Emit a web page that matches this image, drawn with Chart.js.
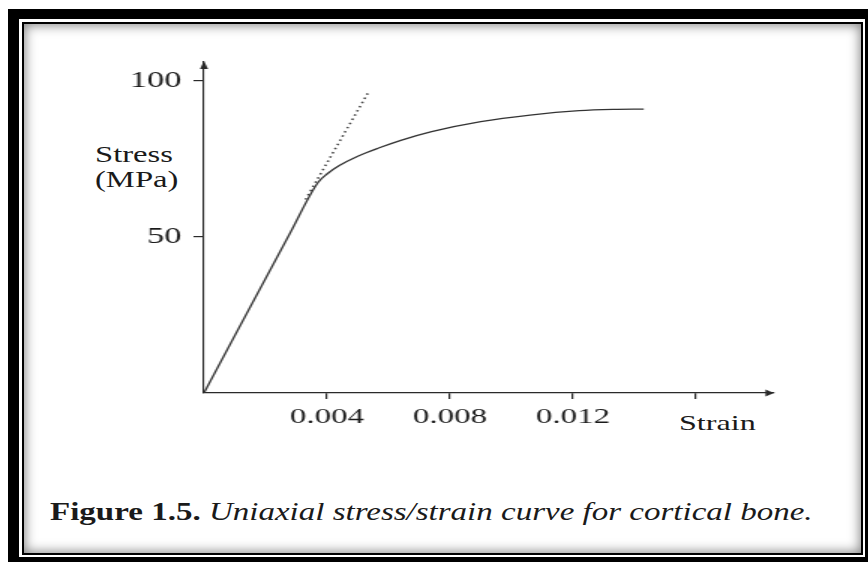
<!DOCTYPE html>
<html>
<head>
<meta charset="utf-8">
<script src="https://cdn.jsdelivr.net/npm/chart.js@4.4.1/dist/chart.umd.min.js"></script>
<style>
  html, body { margin: 0; padding: 0; background: #fff; overflow: hidden; }
  body { width: 868px; height: 562px; position: relative; font-family: "Liberation Serif", "Times New Roman", serif; color: #1a1a1a; }
  #outer { position: absolute; left: 8px; top: 9px; width: 867px; height: 558px; box-sizing: border-box;
           border: 10px solid #000; border-left-width: 11px; }
  #inner { position: absolute; left: 22px; top: 22px; width: 841px; height: 533px; box-sizing: border-box;
           border: 2px solid #000; box-shadow: inset 0 0 12px 1px rgba(0,0,0,0.5); }
  #wrap { position: absolute; left: 0; top: 0; width: 579px; height: 562px; transform: scaleX(1.5); transform-origin: 0 0; }
  .lbl { position: absolute; white-space: nowrap; transform-origin: 0 0; line-height: 1; }
  #ylab { left: 95px; top: 142px; font-size: 24px; transform: scaleX(1.36); }
  #ylab div { height: 25px; }
  #xlab { left: 679px; top: 412px; font-size: 22px; transform: scaleX(1.46); }
  #caption { left: 50px; top: 499px; font-size: 25px; transform: scaleX(1.32); }
</style>
</head>
<body>
<div id="outer"></div>
<div id="inner"></div>
<div class="lbl" id="ylab"><div>Stress</div><div>(MPa)</div></div>
<div class="lbl" id="xlab">Strain</div>
<div class="lbl" id="caption"><b>Figure 1.5.</b> <i>Uniaxial stress/strain curve for cortical bone.</i></div>
<div id="wrap"><canvas id="grafico"></canvas></div>
<script>
// curva tensao/deformacao
const strain = [0, 0.0028, 0.0037, 0.0040, 0.0044, 0.0050, 0.0057, 0.0064, 0.0074, 0.0090, 0.0106, 0.0122, 0.0133, 0.0143];
const stress = [0, 51.3, 67.4, 70.2, 72.9, 75.9, 78.6, 81.0, 83.8, 87.0, 89.1, 90.5, 90.9, 91.0];

// prolongamento elastico pontilhado
const tanStrain = [0.0033, 0.00535];
const tanStress = [62, 96.5];

const xTicks = [0.004, 0.008, 0.012, 0.016];
const xTickLabels = ['0.004', '0.008', '0.012', ''];
const yTicks = [50, 100];
const yTickLabels = ['50', '100'];

const axisColor = '#2a2a2a';

// setas nas pontas dos eixos
const setas = {
  id: 'setas',
  afterDraw(chart) {
    const { ctx, chartArea: a } = chart;
    ctx.save();
    ctx.fillStyle = axisColor;
    ctx.beginPath();
    ctx.moveTo(a.left, a.top - 1);
    ctx.lineTo(a.left - 2.7, a.top + 7);
    ctx.lineTo(a.left + 2.7, a.top + 7);
    ctx.closePath();
    ctx.fill();
    ctx.beginPath();
    ctx.moveTo(a.right + 0.7, a.bottom);
    ctx.lineTo(a.right - 5, a.bottom - 3.5);
    ctx.lineTo(a.right - 5, a.bottom + 3.5);
    ctx.closePath();
    ctx.fill();
    ctx.restore();
  }
};

const ctx = document.getElementById('grafico').getContext('2d');
new Chart(ctx, {
  type: 'scatter',
  data: {
    datasets: [{
      data: strain.map((x, i) => ({ x, y: stress[i] })),
      showLine: true,
      borderColor: '#333',
      borderWidth: 1.3,
      pointRadius: 0,
      cubicInterpolationMode: 'monotone'
    }, {
      data: tanStrain.map((x, i) => ({ x, y: tanStress[i] })),
      showLine: true,
      borderColor: '#444',
      borderWidth: 1.6,
      borderDash: [1.5, 3],
      pointRadius: 0
    }]
  },
  options: {
    responsive: true,
    maintainAspectRatio: false,
    animation: false,
    layout: { padding: { left: 0, top: 62, right: 63.67, bottom: 0 } },
    plugins: { legend: { display: false }, tooltip: { enabled: false } },
    scales: {
      x: {
        type: 'linear', min: 0, max: 0.0185,
        afterFit: s => { s.height = 169; },
        afterBuildTicks: s => { s.ticks = xTicks.map(v => ({ value: v })); },
        grid: { display: true, drawOnChartArea: false, drawTicks: true, tickLength: 6, color: axisColor, lineWidth: 1.2 },
        border: { display: true, color: axisColor, width: 1.3 },
        ticks: {
          autoSkip: false, maxRotation: 0, padding: 5, color: '#1a1a1a',
          font: { family: 'Liberation Serif', size: 22 },
          callback: (v, i) => xTickLabels[i]
        }
      },
      y: {
        type: 'linear', min: 0, max: 106.1,
        afterFit: s => { s.width = 136; },
        afterBuildTicks: s => { s.ticks = yTicks.map(v => ({ value: v })); },
        grid: { display: true, drawOnChartArea: false, drawTicks: true, tickLength: 7, color: axisColor, lineWidth: 1.2 },
        border: { display: true, color: axisColor, width: 1.1 },
        ticks: {
          autoSkip: false, padding: 8, color: '#1a1a1a',
          font: { family: 'Liberation Serif', size: 23 },
          callback: (v, i) => yTickLabels[i]
        }
      }
    }
  },
  plugins: [setas]
});
</script>
</body>
</html>
